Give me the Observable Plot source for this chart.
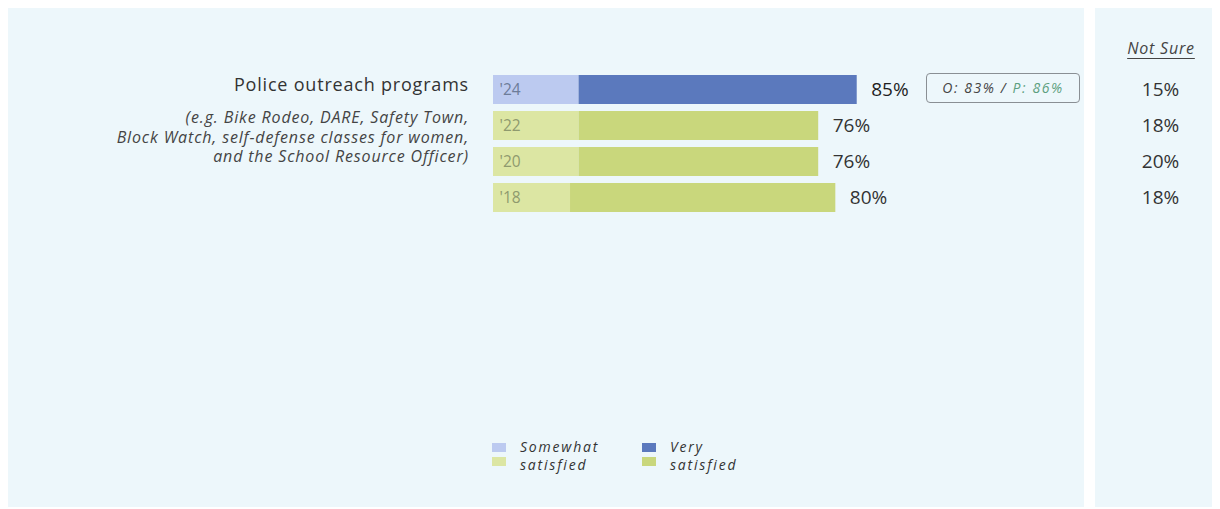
<!DOCTYPE html>
<html>
<head>
<meta charset="utf-8">
<script src="https://cdn.jsdelivr.net/npm/d3@7"></script>
<script src="https://cdn.jsdelivr.net/npm/@observablehq/plot@0.6"></script>
<style>
  html, body { margin: 0; padding: 0; background: #ffffff; }
  #wrap { position: relative; width: 1220px; height: 509px; overflow: hidden; font-family: "Open Sans", sans-serif; color: #333; }
  .panel { position: absolute; background: #edf7fb; }
  #main { left: 8px; top: 8px; width: 1076px; height: 499px; }
  #side { left: 1095px; top: 8px; width: 117px; height: 499px; }
  #chart { position: absolute; left: 0; top: 0; }
  .lbl { position: absolute; right: 751px; text-align: right; white-space: nowrap; }
  #title { top: 72px; font-size: 18px; line-height: 24px; letter-spacing: 0.8px; color: #333; }
  #sub { top: 108px; font-size: 16px; font-style: italic; line-height: 19.7px; letter-spacing: 0.85px; color: #444; }
  #hdr { position: absolute; left: 1116px; top: 37px; width: 90px; text-align: center; font-size: 16px; font-style: italic; letter-spacing: 0.8px; color: #444; text-decoration: underline; text-underline-offset: 4px; }
  #box { position: absolute; left: 926px; top: 73px; width: 152px; height: 28px; border: 1px solid #8a8f94; border-radius: 4px; box-sizing: content-box; font-size: 14px; font-style: italic; line-height: 28px; text-align: center; color: #444; letter-spacing: 1.6px; white-space: nowrap; }
  #box .p { color: #5d9f80; }
  #legend { position: absolute; left: 492px; top: 438px; font-size: 14px; font-style: italic; color: #333; letter-spacing: 1.8px; }
  .item { position: absolute; width: 150px; }
  .sw { position: absolute; left: 0; width: 14px; height: 9px; }
  .tx { position: absolute; left: 28px; line-height: 18px; white-space: nowrap; }
</style>
</head>
<body>
<div id="wrap">
  <div class="panel" id="main"></div>
  <div class="panel" id="side"></div>
  <div id="chart"></div>
  <div class="lbl" id="title"></div>
  <div class="lbl" id="sub"></div>
  <div id="hdr"></div>
  <div id="box"></div>
  <div id="legend"></div>
</div>
<script>
// ---- data ----
const item = "Police outreach programs";
const itemNote = ["(e.g. Bike Rodeo, DARE, Safety Town,", "Block Watch, self-defense classes for women,", "and the School Resource Officer)"];
const years = ["'24", "'22", "'20", "'18"];
const somewhat = [20, 20, 20, 18];
const very = [65, 56, 56, 62];
const totals = [85, 76, 76, 80];
const notSure = [15, 18, 20, 18];
const notSureTitle = "Not Sure";
const compareO = "O: 83%";
const compareP = "P: 86%";
const legendTop = ["Somewhat", "Very"];
const legendBottom = "satisfied";

// colours
const lightBlue = "#bccaf0", darkBlue = "#5b79bd";
const lightGreen = "#dce6a3", darkGreen = "#c9d77c";

const rows = [];
years.forEach((y, i) => {
  const cur = i === 0;
  rows.push({year: y, x1: 0, x2: somewhat[i], color: cur ? lightBlue : lightGreen});
  rows.push({year: y, x1: somewhat[i], x2: somewhat[i] + very[i], color: cur ? darkBlue : darkGreen});
});
const rowInfo = years.map((y, i) => ({year: y, total: totals[i], notSure: notSure[i], cur: i === 0}));

const chart = Plot.plot({
  width: 1220,
  height: 509,
  marginLeft: 0,
  marginRight: 60,
  marginTop: 0,
  marginBottom: 0,
  style: {background: "transparent", fontFamily: "'Open Sans', sans-serif", overflow: "visible"},
  x: {domain: [0, 100], range: [493, 920.9], axis: null},
  y: {domain: years, range: [70.35, 216.35], paddingInner: 0.2, paddingOuter: 0.1, axis: null},
  marks: [
    Plot.barX(rows, {y: "year", x1: "x1", x2: "x2", fill: "color"}),
    Plot.text(rowInfo, {y: "year", x: 0, dx: 6, text: "year", textAnchor: "start", fontSize: 15.5,
      fill: d => d.cur ? "#6d7c99" : "#8f9a6e"}),
    Plot.text(rowInfo, {y: "year", x: "total", dx: 14, text: d => d.total + "%", textAnchor: "start",
      fontSize: 19, fill: d => d.cur ? "#1f1f1f" : "#333", fontWeight: d => d.cur ? 600 : 400}),
    Plot.text(rowInfo, {y: "year", frameAnchor: "right", text: d => d.notSure + "%", textAnchor: "middle",
      fontSize: 19, fill: "#333"})
  ]
});
document.getElementById("chart").appendChild(chart);

document.getElementById("title").textContent = item;
document.getElementById("sub").innerHTML = itemNote.join("<br>");
document.getElementById("hdr").textContent = notSureTitle;
document.getElementById("box").innerHTML = compareO + " / <span class='p'>" + compareP + "</span>";

const lg = document.getElementById("legend");
const items = [
  {name: legendTop[0], left: 0, c1: lightBlue, c2: lightGreen},
  {name: legendTop[1], left: 150, c1: darkBlue, c2: darkGreen}
];
items.forEach(it => {
  const d = document.createElement("div");
  d.className = "item";
  d.style.left = it.left + "px";
  d.innerHTML =
    `<div class="sw" style="top:5px;background:${it.c1}"></div>` +
    `<div class="sw" style="top:19px;background:${it.c2}"></div>` +
    `<div class="tx" style="top:0px">${it.name}</div>` +
    `<div class="tx" style="top:18px">${legendBottom}</div>`;
  lg.appendChild(d);
});
</script>
</body>
</html>
